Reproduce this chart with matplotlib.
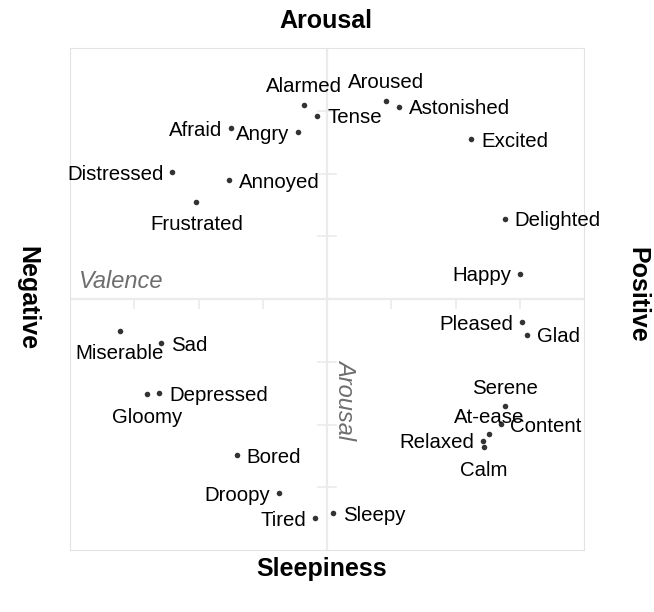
import matplotlib
matplotlib.use("Agg")
import matplotlib.pyplot as plt

plt.rcParams['font.family'] = ['Liberation Sans', 'DejaVu Sans']

# Russell circumplex: valence (x) and arousal (y) per affect word
words = ['Alarmed', 'Tense', 'Afraid', 'Angry', 'Distressed', 'Annoyed', 'Frustrated',
         'Aroused', 'Astonished', 'Excited', 'Delighted', 'Happy',
         'Miserable', 'Sad', 'Gloomy', 'Depressed', 'Bored', 'Droopy', 'Tired', 'Sleepy',
         'Pleased', 'Glad', 'Serene', 'Content', 'At-ease', 'Relaxed', 'Calm']
valence = [-0.090, -0.038, -0.373, -0.112, -0.602, -0.383, -0.508,
           0.229, 0.279, 0.561, 0.691, 0.752,
           -0.806, -0.647, -0.701, -0.654, -0.352, -0.188, -0.046, 0.025,
           0.760, 0.780, 0.693, 0.678, 0.632, 0.606, 0.610]
arousal = [0.773, 0.730, 0.680, 0.664, 0.505, 0.474, 0.388,
           0.789, 0.766, 0.636, 0.319, 0.100,
           -0.126, -0.176, -0.380, -0.376, -0.622, -0.773, -0.873, -0.854,
           -0.093, -0.143, -0.426, -0.498, -0.538, -0.565, -0.588]

tick_vals = [-0.75, -0.5, -0.25, 0.25, 0.5, 0.75]

# label placement: offset in pixels (dx, dy) and alignment
R, L, U, D = (10, -2, 'left'), (-9, -2, 'right'), (0, 18, 'center'), (0, -23, 'center')
label_pos = {
    'Alarmed': U, 'Tense': R, 'Afraid': L, 'Angry': L, 'Distressed': L,
    'Annoyed': R, 'Frustrated': D, 'Aroused': U, 'Astonished': R, 'Excited': R,
    'Delighted': R, 'Happy': L, 'Miserable': D, 'Sad': R, 'Gloomy': D,
    'Depressed': R, 'Bored': R, 'Droopy': L, 'Tired': L, 'Sleepy': R,
    'Pleased': L, 'Glad': R, 'Serene': (0, 17, 'center'), 'Content': (9, -3, 'left'),
    'At-ease': (0, 17, 'center'), 'Relaxed': (-8, -2, 'right'), 'Calm': (0, -24, 'center'),
}

fig = plt.figure(figsize=(6.54, 6.12), dpi=100)
ax = fig.add_axes([70 / 654, 62 / 612, 514 / 654, 502 / 612])
ax.set_xlim(-1, 1)
ax.set_ylim(-1, 1)
ax.set_xticks([])
ax.set_yticks([])
for s in ax.spines.values():
    s.set_color('#e3e3e3')
    s.set_linewidth(0.8)

line_col = '#ebebeb'
ax.axhline(0, color=line_col, lw=1.6, zorder=1)
ax.axvline(0, color=line_col, lw=1.6, zorder=1)
for t in tick_vals:
    ax.plot([t, t], [0, -0.034], color=line_col, lw=1.2, zorder=1)
    ax.plot([-0.036, 0.036], [t, t], color=line_col, lw=1.2, zorder=1)

ax.plot(valence, arousal, 'o', color='#333333', ms=4, mec='none', zorder=3)

for w, x, y in zip(words, valence, arousal):
    dx, dy, ha = label_pos[w]
    ax.annotate(w, (x, y), xytext=(dx * 0.72, dy * 0.72), textcoords='offset points',
                ha=ha, va='center', fontsize=14.7, color='black', zorder=4)

ax.text(-0.965, 0.022, 'Valence', fontsize=17, style='italic',
        color='#6e6e6e', ha='left', va='bottom')
ax.text(0.072, -0.40, 'Arousal', fontsize=17, style='italic', color='#6e6e6e',
        rotation=270, ha='center', va='center')

fig.text(326 / 654, 1 - 21 / 612, 'Arousal', fontsize=18, weight='bold', ha='center', va='center')
fig.text(322 / 654, 1 - 569 / 612, 'Sleepiness', fontsize=18, weight='bold', ha='center', va='center')
fig.text(27 / 654, 1 - 298 / 612, 'Negative', fontsize=18, weight='bold', rotation=270,
         ha='center', va='center')
fig.text(637 / 654, 1 - 295 / 612, 'Positive', fontsize=18, weight='bold', rotation=270,
         ha='center', va='center')

fig.savefig('out.png', dpi=100)
